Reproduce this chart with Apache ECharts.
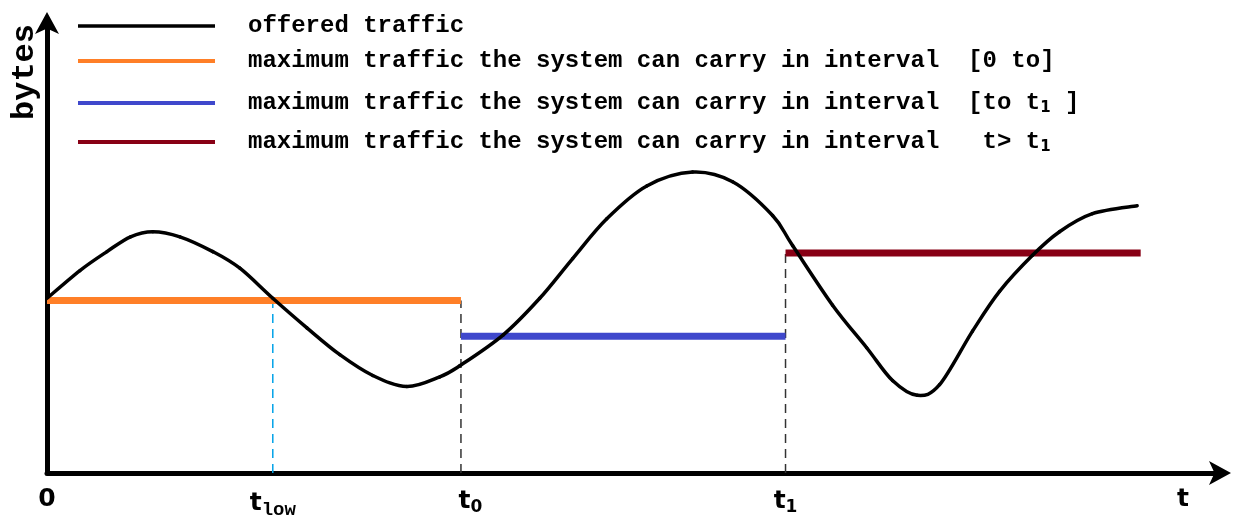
<!DOCTYPE html>
<html>
<head>
<meta charset="utf-8">
<script src="https://cdn.jsdelivr.net/npm/echarts@6/dist/echarts.min.js"></script>
<style>
  html, body { margin: 0; padding: 0; background: #fff; }
  #chart { width: 1235px; height: 520px; }
</style>
</head>
<body>
<div id="chart"></div>
<script>
// offered traffic curve (time units 0..100, bytes units 0..98)
const curveX = [0, 2.8, 5.1, 7.1, 9.0, 11.3, 14.1, 16.4, 19.2, 22.1, 24.9, 27.7, 30.6, 33.4, 35.1, 38.8, 41.9, 44.7, 47.6, 51.0, 54.9, 58.3, 61.7, 63.4, 66.8, 69.7, 71.9, 74.0, 75.9, 78.7, 81.0, 83.8, 86.1, 88.9, 92.7]
const curveY = [37.8, 43.8, 47.9, 51.1, 52.2, 51.1, 47.9, 44.3, 37.8, 31.4, 25.6, 21.1, 18.7, 20.8, 23.2, 29.9, 37.8, 46.4, 55.0, 62.1, 65.1, 63.0, 55.7, 49.2, 36.3, 27.1, 20.0, 16.8, 19.1, 30.7, 39.3, 47.1, 52.2, 56.1, 57.8]

// maximum carried traffic per interval
const intervalStart = [0, 35.2, 62.8]
const intervalEnd = [35.2, 62.8, 93.0]
const capacity = [37.3, 29.6, 47.6]
const capColors = ['#FF7F27', '#3F48CC', '#880015']

// vertical dashed markers
const markerX = [19.2, 35.2, 62.8]
const markerTop = [37.3, 37.3, 47.6]
const markerColors = ['#00A2E8', '#333333', '#333333']

// x tick labels
const tickPos = [0, 19.2, 36.0, 62.8, 96.6]
const tickText = ['{t|0}', '{t|t}{low|low}', '{t|t}{sub|0}', '{t|t}{sub|1}', '{t|t}']

const seriesNames = [
  'offered traffic',
  'max0',
  'max1',
  'max2'
]
const legendText = [
  'offered traffic',
  'maximum traffic the system can carry in interval  [0 to]',
  'maximum traffic the system can carry in interval  [to t{s|1} ]',
  'maximum traffic the system can carry in interval   t> t{s|1}'
]
const legendTop = [14, 49, 91, 130]

const chart = echarts.init(document.getElementById('chart'))

// smooth curve through the read points (catmull-rom in pixel space)
function renderCurve(params, api) {
  if (params.dataIndex !== 0) return null
  const pts = curveX.map((x, i) => api.coord([x, curveY[i]]))
  const children = []
  for (let i = 0; i < pts.length - 1; i++) {
    const p0 = pts[Math.max(i - 1, 0)]
    const p1 = pts[i]
    const p2 = pts[i + 1]
    const p3 = pts[Math.min(i + 2, pts.length - 1)]
    children.push({
      type: 'bezierCurve',
      shape: {
        x1: p1[0], y1: p1[1],
        cpx1: p1[0] + (p2[0] - p0[0]) / 6, cpy1: p1[1] + (p2[1] - p0[1]) / 6,
        cpx2: p2[0] - (p3[0] - p1[0]) / 6, cpy2: p2[1] - (p3[1] - p1[1]) / 6,
        x2: p2[0], y2: p2[1]
      },
      style: { stroke: '#000', lineWidth: 3.5, fill: null, lineCap: 'round' }
    })
  }
  return { type: 'group', children: children }
}

const series = []
series.push({
  name: seriesNames[0],
  type: 'custom',
  renderItem: renderCurve,
  itemStyle: { color: '#000' },
  z: 5,
  data: curveX.map((x, i) => [x, curveY[i]])
})
for (let i = 0; i < 3; i++) {
  series.push({
    name: seriesNames[i + 1],
    type: 'line',
    showSymbol: false,
    color: capColors[i],
    lineStyle: { width: 7, color: capColors[i], cap: 'butt' },
    z: 3,
    data: [[intervalStart[i], capacity[i]], [intervalEnd[i], capacity[i]]]
  })
}
for (let i = 0; i < 3; i++) {
  series.push({
    name: 'marker' + i,
    type: 'line',
    showSymbol: false,
    lineStyle: { width: 1.5, color: markerColors[i], type: [9, 6] },
    z: 2,
    data: [[markerX[i], 0], [markerX[i], markerTop[i]]]
  })
}

const legendRich = {
  s: { fontFamily: 'DejaVu Sans', fontWeight: 'bold', fontSize: 15, color: '#000', padding: [10, 0, 0, 0] }
}

chart.setOption({
  backgroundColor: '#fff',
  animation: false,
  grid: { left: 47, right: 12, top: 20, bottom: 44 },
  legend: legendText.map((txt, i) => ({
    data: [seriesNames[i]],
    left: 78,
    top: legendTop[i],
    padding: 0,
    icon: 'rect',
    itemWidth: 137,
    itemHeight: i === 0 ? 3.5 : 4,
    selectedMode: false,
    formatter: () => txt,
    textStyle: {
      fontFamily: 'Liberation Mono',
      fontWeight: 'bold',
      fontSize: 24,
      color: '#000',
      padding: [0, 0, 0, 28],
      rich: legendRich
    }
  })),
  xAxis: {
    type: 'value',
    min: 0,
    max: 100,
    splitLine: { show: false },
    axisTick: { show: false },
    axisLine: {
      onZero: false,
      symbol: ['none', 'arrow'],
      symbolSize: [18, 22],
      symbolOffset: [0, 8],
      lineStyle: { color: '#000', width: 5 }
    },
    axisLabel: {
      customValues: tickPos,
      margin: 14,
      formatter: (v) => {
        let best = 0
        tickPos.forEach((p, i) => { if (Math.abs(p - v) < Math.abs(tickPos[best] - v)) best = i })
        return tickText[best]
      },
      rich: {
        t: { fontFamily: 'DejaVu Sans', fontWeight: 'bold', fontSize: 25, color: '#000' },
        sub: { fontFamily: 'DejaVu Sans', fontWeight: 'bold', fontSize: 17, color: '#000', padding: [12, 0, 0, 0] },
        low: { fontFamily: 'Liberation Mono', fontWeight: 'bold', fontSize: 19, color: '#000', padding: [14, 0, 0, 0] }
      }
    }
  },
  yAxis: {
    type: 'value',
    min: 0,
    max: 98,
    splitLine: { show: false },
    axisTick: { show: false },
    axisLabel: { show: false },
    axisLine: {
      onZero: false,
      symbol: ['none', 'arrow'],
      symbolSize: [18, 22],
      symbolOffset: [0, 8],
      lineStyle: { color: '#000', width: 5 }
    }
  },
  graphic: [{
    type: 'text',
    x: 25,
    y: 72,
    rotation: Math.PI / 2,
    style: {
      text: 'bytes',
      fontFamily: 'Liberation Mono',
      fontWeight: 'bold',
      fontSize: 32,
      fill: '#000',
      align: 'center',
      verticalAlign: 'middle'
    }
  }],
  series: series
})
</script>
</body>
</html>
